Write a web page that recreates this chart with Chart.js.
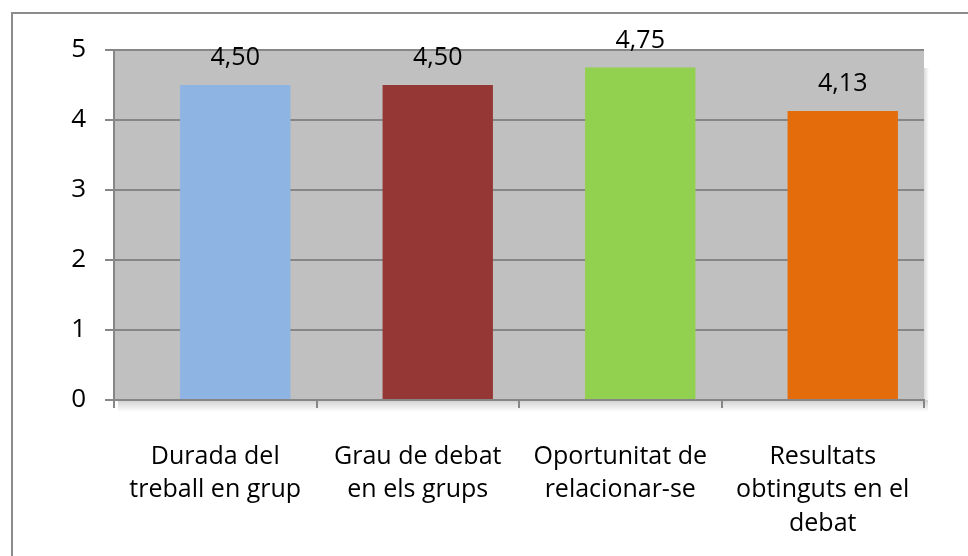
<!DOCTYPE html>
<html>
<head>
<meta charset="utf-8">
<script src="https://cdn.jsdelivr.net/npm/chart.js@4/dist/chart.umd.min.js"></script>
<style>
  html, body { margin: 0; padding: 0; background: #fff; }
  #wrap { width: 968px; height: 556px; position: relative; }
</style>
</head>
<body>
<div id="wrap"><canvas id="chart" width="968" height="556"></canvas></div>
<script>
// dades del gràfic
const categories = [
  ["Durada del", "treball en grup"],
  ["Grau de debat", "en els grups"],
  ["Oportunitat de", "relacionar-se"],
  ["Resultats", "obtinguts en el", "debat"],
];
const values = [4.5, 4.5, 4.75, 4.13];
const barColors = ["#8EB4E3", "#953735", "#92D050", "#E46C0A"];
const yTicks = [0, 1, 2, 3, 4, 5];

const FONT = "'Open Sans', sans-serif";
const gridColor = "#868686";
const BAR_SHIFT = 20; // Excel desplaça les barres una mica a la dreta

// vora exterior i ombra de l'eix
const framePlugin = {
  id: "frame",
  beforeDraw(chart) {
    const ctx = chart.ctx;
    const a = chart.chartArea;
    ctx.save();
    // fons gris de l'àrea
    ctx.fillStyle = "#C0C0C0";
    ctx.fillRect(a.left, a.top, a.right - a.left, a.bottom - a.top);
    // ombra
    const g = ctx.createLinearGradient(0, a.bottom, 0, a.bottom + 12);
    g.addColorStop(0, "rgba(150,150,150,0.45)");
    g.addColorStop(1, "rgba(150,150,150,0)");
    ctx.fillStyle = g;
    ctx.fillRect(a.left + 4, a.bottom, a.right - a.left, 12);
    const g2 = ctx.createLinearGradient(a.right, 0, a.right + 5, 0);
    g2.addColorStop(0, "rgba(150,150,150,0.35)");
    g2.addColorStop(1, "rgba(150,150,150,0)");
    ctx.fillStyle = g2;
    ctx.fillRect(a.right, a.top + 18, 5, a.bottom - a.top - 18);
    // vora
    ctx.strokeStyle = "#8C8C8C";
    ctx.lineWidth = 2;
    ctx.beginPath();
    ctx.moveTo(12, 556);
    ctx.lineTo(12, 13);
    ctx.lineTo(968, 13);
    ctx.stroke();
    ctx.restore();
  },
};

// barres desplaçades + etiquetes de valor
const valueLabels = {
  id: "valueLabels",
  beforeDatasetsDraw(chart) {
    chart.ctx.save();
    chart.ctx.translate(BAR_SHIFT, 0);
  },
  afterDatasetsDraw(chart) {
    const ctx = chart.ctx;
    const meta = chart.getDatasetMeta(0);
    ctx.font = "25px " + FONT;
    ctx.fillStyle = "#000";
    ctx.textAlign = "center";
    ctx.textBaseline = "alphabetic";
    meta.data.forEach((bar, i) => {
      const txt = values[i].toFixed(2).replace(".", ",");
      ctx.fillText(txt, bar.x, bar.y - 20);
    });
    ctx.restore();
  },
};

new Chart(document.getElementById("chart"), {
  type: "bar",
  data: {
    labels: categories,
    datasets: [
      {
        data: values,
        backgroundColor: barColors,
        borderWidth: 0,
        barPercentage: 0.545,
        categoryPercentage: 1,
      },
    ],
  },
  options: {
    responsive: false,
    animation: false,
    events: [],
    layout: { padding: { top: 50, right: 44, left: 0, bottom: 0 } },
    plugins: { legend: { display: false }, tooltip: { enabled: false } },
    scales: {
      x: {
        grid: {
          offset: true,
          drawOnChartArea: false,
          drawTicks: true,
          tickLength: 8,
          color: gridColor,
          lineWidth: 2,
        },
        border: { color: gridColor, width: 2 },
        ticks: {
          color: "#000",
          font: { family: FONT, size: 25, lineHeight: 1.34 },
          padding: 32,
          maxRotation: 0,
        },
        afterFit(scale) {
          scale.height = 156;
        },
      },
      y: {
        min: 0,
        max: 5,
        afterBuildTicks(scale) {
          scale.ticks = yTicks.map((v) => ({ value: v }));
        },
        grid: {
          color: gridColor,
          lineWidth: 2,
          drawTicks: true,
          tickLength: 9,
        },
        border: { color: gridColor, width: 2 },
        ticks: {
          color: "#000",
          font: { family: FONT, size: 26 },
          padding: 19,
        },
        afterFit(scale) {
          scale.width = 114;
        },
      },
    },
  },
  plugins: [framePlugin, valueLabels],
});
</script>
</body>
</html>
